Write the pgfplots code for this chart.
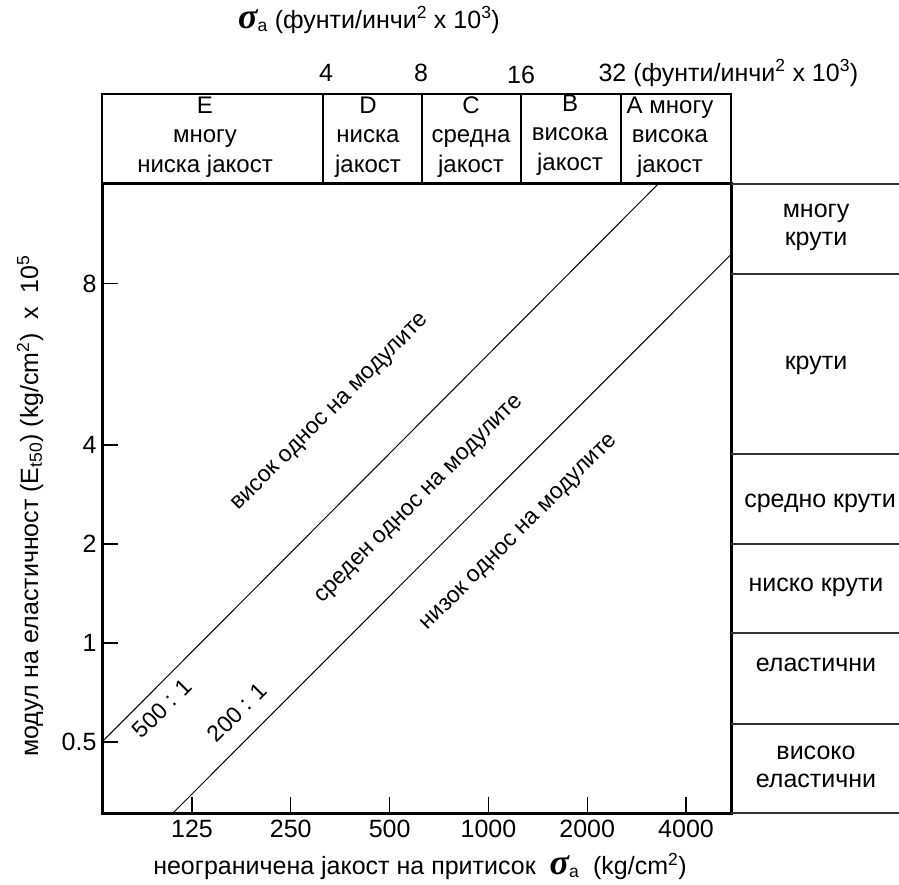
\documentclass[border=0pt]{standalone}
\usepackage{fontspec}
\setmainfont{Liberation Sans}
\newfontfamily\sigfont{Liberation Serif}
\usepackage{pgfplots}
\pgfplotsset{compat=1.18}
\newcommand{\fs}[1]{\fontsize{#1}{#1}\selectfont}
\newcommand{\sig}{{\sigfont\bfseries\itshape\fontsize{36}{36}\selectfont σ}}
\begin{document}
\begin{tikzpicture}[x=1pt,y=1pt]
\useasboundingbox (-102,-71) rectangle (797,813);
\begin{axis}[
  at={(0,0)}, anchor=south west,
  scale only axis, width=629pt, height=629pt,
  xmode=log, ymode=log, log basis x=2, log basis y=2,
  xmin=66.5, xmax=5484, ymin=0.304, ymax=24.9,
  xtick={125,250,500,1000,2000,4000},
  xticklabels={125,250,500,1000,2000,4000},
  ytick={0.5,1,2,4,12.4},
  yticklabels={0.5,1,2,4,8},
  minor tick num=0,
  tick align=inside, xtick pos=left, ytick pos=left,
  major tick length=16pt,
  axis line style={line width=3pt},
  tick style={line width=1.3pt, black},
  ticklabel style={font=\fs{25}},
  xticklabel style={yshift=-4pt},
  yticklabel style={xshift=-2pt},
  clip=false,
]
\addplot[black, line width=1pt] coordinates {(66.5,0.5) (3290,24.9)};
\addplot[black, line width=1pt] coordinates {(109.4,0.304) (5484,15.2)};
\end{axis}
% line labels
\begin{scope}[font=\fs{23}]
\node[rotate=45] at (60,105) {500 : 1};
\node[rotate=45] at (135,101) {200 : 1};
\node[rotate=45] at (229,400) {висок однос на модулите};
\node[rotate=45] at (318,313) {среден однос на модулите};
\node[rotate=45] at (418,280) {низок однос на модулите};
\end{scope}
% top category box
\draw[line width=1.5pt] (0,629) -- (0,719) -- (629,719) -- (629,629);
\foreach \xx in {221,320,419,519} \draw[line width=1.5pt] (\xx,629) -- (\xx,719);
\begin{scope}[font=\fontsize{24}{29.5}\selectfont, align=center]
\node at (103,676) {E\\многу\\ниска јакост};
\node at (266,676) {D\\ниска\\јакост};
\node at (369,676) {C\\средна\\јакост};
\node at (468,678) {B\\висока\\јакост};
\node at (568,676) {A многу\\висока\\јакост};
\end{scope}
% top scale
\begin{scope}[font=\fs{25}]
\node at (224,740) {4};
\node at (319,740) {8};
\node at (419,738) {16};
\node[anchor=west] at (493,740) {32 (фунти/инчи\textsuperscript{2} x 10\textsuperscript{3})};
\node at (267,793) {\sig\textsubscript{a} (фунти/инчи\textsuperscript{2} x 10\textsuperscript{3})};
\end{scope}
% axis titles
\node[font=\fs{25}] at (318,-53) {неограничена јакост на притисок \ \sig\textsubscript{a} \ (kg/cm\textsuperscript{2})};
\node[rotate=90, font=\fs{25}] at (-72,307) {модул на еластичност (E\textsubscript{t50}) (kg/cm\textsuperscript{2}) \ x \ 10\textsuperscript{5}};
% right panel
\foreach \yy in {629,539,359,269,180,89,0} \draw[line width=1.3pt, black!80] (629,\yy) -- (797,\yy);
\begin{scope}[font=\fontsize{25}{28}\selectfont, align=center]
\node at (714,586) {многу\\крути};
\node at (714,448) {крути};
\node at (718,310) {средно крути};
\node at (714,226) {ниско крути};
\node at (714,148) {еластични};
\node at (714,46) {високо\\еластични};
\end{scope}
\end{tikzpicture}
\end{document}
